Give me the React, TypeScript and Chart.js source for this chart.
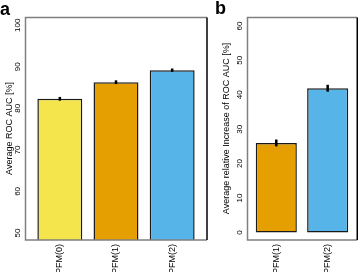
import React, { useEffect, useRef } from 'react';
import { Chart, registerables } from 'chart.js';

Chart.register(...registerables);

// ---- data ----
const categoriesA = ['PFM(0)', 'PFM(1)', 'PFM(2)'];
const aucValues = [82.3, 86.3, 89.2];
const aucErrors = [0.45, 0.45, 0.4];
const yTicksA = [50, 60, 70, 80, 90, 100];

const categoriesB = ['PFM(1)', 'PFM(2)'];
const increaseValues = [26.0, 41.9];
const increaseErrors = [1.0, 1.0];
const yTicksB = [0, 10, 20, 30, 40, 50, 60];

// ---- styles ----
const FONT = "'Liberation Sans', Arial, Helvetica, sans-serif";
const palette: Record<string, string> = {
  'PFM(0)': '#F3E54B',
  'PFM(1)': '#E69F00',
  'PFM(2)': '#56B4E9',
};

type PanelCfg = {
  categories: string[];
  values: number[];
  errors: number[];
  yTicks: number[];
  yMin: number;
  yMax: number;
  xMin: number;
  xMax: number;
  padLeft: number;
  padRight: number;
  yWidth: number;
  title: string;
  titlePad: number;
  skipBase: boolean;
};

function makePlugin(cfg: PanelCfg) {
  return {
    id: 'panelDecor',
    afterDatasetsDraw(chart: any) {
      const ctx = chart.ctx as CanvasRenderingContext2D;
      const ys = chart.scales.y;
      const meta = chart.getDatasetMeta(0);
      ctx.save();
      ctx.strokeStyle = '#000';
      ctx.lineWidth = 2.5;
      meta.data.forEach((bar: any, i: number) => {
        const v = cfg.values[i];
        const e = cfg.errors[i];
        ctx.beginPath();
        ctx.moveTo(bar.x, ys.getPixelForValue(v + e));
        ctx.lineTo(bar.x, ys.getPixelForValue(v - e));
        ctx.stroke();
      });
      ctx.restore();
    },
    afterDraw(chart: any) {
      const ctx = chart.ctx as CanvasRenderingContext2D;
      const { left, right, top, bottom } = chart.chartArea;
      const ys = chart.scales.y;
      const r = Math.min(right, chart.width - 0.75);
      ctx.save();
      ctx.lineWidth = 1.5;
      ctx.strokeStyle = '#808080';
      ctx.beginPath();
      ctx.moveTo(r, top + 0.5);
      ctx.lineTo(left + 0.5, top + 0.5);
      ctx.lineTo(left + 0.5, bottom);
      ctx.lineTo(r, bottom);
      ctx.stroke();
      ctx.strokeStyle = '#000';
      ctx.beginPath();
      ctx.moveTo(r, top + 0.5);
      ctx.lineTo(r, bottom);
      ctx.stroke();

      ctx.fillStyle = '#000';
      ctx.font = `8px ${FONT}`;
      ctx.textAlign = 'center';
      ctx.textBaseline = 'middle';
      ys.ticks.forEach((t: any) => {
        const py = ys.getPixelForValue(t.value);
        ctx.save();
        ctx.translate(left - 7, py);
        ctx.rotate(-Math.PI / 2);
        ctx.fillText(String(t.value), 0, 0);
        ctx.restore();
      });
      ctx.restore();
    },
  };
}

function makeConfig(cfg: PanelCfg): any {
  return {
    type: 'bar',
    data: {
      datasets: [
        {
          data: cfg.categories.map((_, i) => ({ x: i, y: cfg.values[i] })),
          backgroundColor: cfg.categories.map((c) => palette[c]),
          borderColor: '#1a1a1a',
          borderWidth: 1.5,
          borderSkipped: cfg.skipBase ? 'start' : false,
          barPercentage: 0.8,
          categoryPercentage: 1,
        },
      ],
    },
    options: {
      animation: false,
      responsive: false,
      devicePixelRatio: 1,
      events: [],
      layout: { padding: { left: cfg.padLeft, right: cfg.padRight, top: 17, bottom: 0 } },
      plugins: { legend: { display: false }, tooltip: { enabled: false }, title: { display: false } },
      scales: {
        x: {
          type: 'linear',
          offset: false,
          min: cfg.xMin,
          max: cfg.xMax,
          grid: { display: false, drawTicks: false, offset: false },
          border: { display: false },
          afterBuildTicks: (s: any) => {
            s.ticks = cfg.categories.map((_, i) => ({ value: i }));
          },
          afterFit: (s: any) => {
            s.height = 32;
          },
          ticks: {
            autoSkip: false,
            minRotation: 90,
            maxRotation: 90,
            padding: 4,
            color: '#000',
            font: { family: FONT, size: 9 },
            callback: (v: any) => cfg.categories[Math.round(Number(v))] ?? '',
          },
        },
        y: {
          type: 'linear',
          min: cfg.yMin,
          max: cfg.yMax,
          grid: { display: false, drawTicks: false },
          border: { display: false },
          afterBuildTicks: (s: any) => {
            s.ticks = cfg.yTicks.map((v) => ({ value: v }));
          },
          afterFit: (s: any) => {
            s.width = cfg.yWidth;
          },
          ticks: { display: false },
          title: {
            display: true,
            text: cfg.title,
            color: '#000',
            font: { family: FONT, size: 9 },
            padding: { top: cfg.titlePad, bottom: 0 },
          },
        },
      },
    },
    plugins: [makePlugin(cfg)],
  };
}

const panelA: PanelCfg = {
  categories: categoriesA,
  values: aucValues,
  errors: aucErrors,
  yTicks: yTicksA,
  yMin: 48.3,
  yMax: 102,
  xMin: -0.62,
  xMax: 2.62,
  padLeft: 0,
  padRight: 151,
  yWidth: 25,
  title: 'Average ROC AUC [%]',
  titlePad: 4.6,
  skipBase: true,
};

const panelB: PanelCfg = {
  categories: categoriesB,
  values: increaseValues,
  errors: increaseErrors,
  yTicks: yTicksB,
  yMin: -2.2,
  yMax: 62.6,
  xMin: -0.57,
  xMax: 1.59,
  padLeft: 221,
  padRight: 0,
  yWidth: 26,
  title: 'Average relative Increase of ROC AUC [%]',
  titlePad: 0,
  skipBase: false,
};

export default function App() {
  const refA = useRef<HTMLCanvasElement | null>(null);
  const refB = useRef<HTMLCanvasElement | null>(null);

  useEffect(() => {
    if (!refA.current || !refB.current) return;
    const a = new Chart(refA.current, makeConfig(panelA));
    const b = new Chart(refB.current, makeConfig(panelB));
    return () => {
      a.destroy();
      b.destroy();
    };
  }, []);

  const canvasStyle: React.CSSProperties = {
    position: 'absolute',
    left: 0,
    top: 0,
    width: 358,
    height: 272,
  };
  const letterStyle: React.CSSProperties = {
    position: 'absolute',
    fontFamily: FONT,
    fontWeight: 'bold',
    fontSize: 18,
    lineHeight: '18px',
    color: '#000',
  };

  return (
    <div
      style={{
        position: 'fixed',
        left: 0,
        top: 0,
        width: 358,
        height: 272,
        background: '#fff',
        overflow: 'hidden',
      }}
    >
      <canvas ref={refA} width={358} height={272} style={canvasStyle} />
      <canvas ref={refB} width={358} height={272} style={canvasStyle} />
      <div style={{ ...letterStyle, left: 0, top: 0 }}>a</div>
      <div style={{ ...letterStyle, left: 215, top: -1 }}>b</div>
    </div>
  );
}
